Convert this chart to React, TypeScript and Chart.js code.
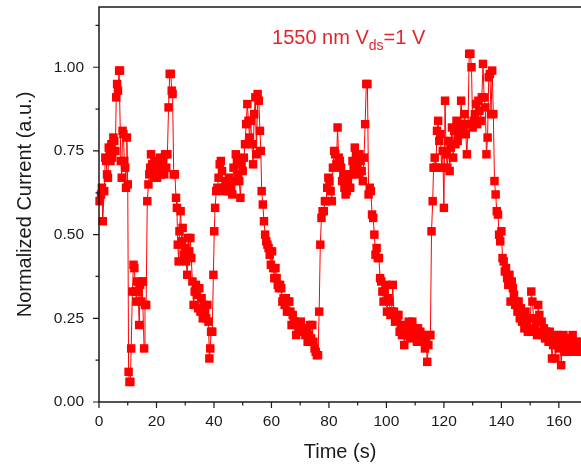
import React, { useEffect, useRef } from 'react';
import { Chart, registerables } from 'chart.js';
Chart.register(...registerables);

// [time (s), normalized current (a.u.)]
const pulse1: [number, number][] = [
  [0.2, 0.6], [0.7, 0.62], [1.0, 0.64], [1.3, 0.54], [1.8, 0.63], [2.2, 0.73], [2.5, 0.72], [2.8, 0.68],
  [3.1, 0.67], [3.4, 0.76], [3.7, 0.75], [4.0, 0.72], [4.3, 0.77], [4.6, 0.73], [5.0, 0.79], [5.3, 0.78],
  [5.7, 0.75], [6.0, 0.91], [6.3, 0.95], [6.6, 0.93], [7.0, 0.99], [7.3, 0.99], [7.6, 0.72], [7.9, 0.67],
  [8.2, 0.81], [8.5, 0.8], [8.8, 0.72], [9.1, 0.7], [9.4, 0.64], [9.7, 0.79], [10.0, 0.65], [10.3, 0.09],
  [10.6, 0.06], [10.9, 0.06], [11.2, 0.16], [11.6, 0.33], [12.0, 0.41], [12.3, 0.4], [12.7, 0.33], [13.0, 0.3],
  [13.3, 0.36], [13.6, 0.33], [14.0, 0.23], [14.3, 0.35], [14.7, 0.3], [15.0, 0.36], [15.3, 0.36], [15.7, 0.16],
  [16.0, 0.29], [16.4, 0.29],
];
const pulse2: [number, number][] = [
  [16.8, 0.6], [17.2, 0.65], [17.5, 0.68], [17.8, 0.7], [18.1, 0.74], [18.5, 0.71], [18.8, 0.69], [19.1, 0.67],
  [19.5, 0.72], [19.8, 0.7], [20.2, 0.67], [20.5, 0.69], [20.9, 0.71], [21.2, 0.73], [21.6, 0.68], [22.0, 0.7],
  [22.3, 0.72], [22.7, 0.68], [23.0, 0.74], [23.4, 0.7], [23.8, 0.74], [24.2, 0.88], [24.6, 0.98], [25.0, 0.98],
  [25.3, 0.93], [25.6, 0.92], [26.0, 0.68], [26.4, 0.68], [26.8, 0.61], [27.1, 0.58], [27.4, 0.47], [27.7, 0.42],
  [28.0, 0.51], [28.4, 0.57], [28.8, 0.48], [29.1, 0.52], [29.5, 0.44], [29.9, 0.46], [30.3, 0.42], [30.7, 0.38],
  [31.0, 0.49], [31.4, 0.45], [31.8, 0.49], [32.1, 0.43], [32.5, 0.36], [32.9, 0.29], [33.3, 0.33], [33.7, 0.35],
  [34.1, 0.32], [34.5, 0.28], [34.9, 0.34], [35.3, 0.27], [35.7, 0.31], [36.1, 0.25], [36.5, 0.29], [36.9, 0.27],
  [37.3, 0.25], [37.7, 0.29], [38.1, 0.24], [38.4, 0.13], [38.7, 0.16], [39.0, 0.21], [39.4, 0.21],
];
const pulse3: [number, number][] = [
  [39.8, 0.38], [40.1, 0.51], [40.4, 0.58], [40.8, 0.63], [41.2, 0.64], [41.6, 0.67], [42.0, 0.71], [42.4, 0.72],
  [42.8, 0.69], [43.2, 0.64], [43.6, 0.63], [44.0, 0.66], [44.4, 0.65], [44.8, 0.63], [45.2, 0.67], [45.6, 0.63],
  [46.0, 0.64], [46.4, 0.62], [46.8, 0.7], [47.2, 0.66], [47.6, 0.74], [48.0, 0.72], [48.4, 0.68], [48.8, 0.66],
  [49.2, 0.61], [49.6, 0.71], [50.0, 0.69], [50.4, 0.73], [50.8, 0.77], [51.2, 0.83], [51.6, 0.89], [52.0, 0.84],
  [52.4, 0.79], [52.8, 0.84], [53.2, 0.77], [53.6, 0.71], [54.0, 0.86], [54.4, 0.91], [54.8, 0.74], [55.2, 0.92],
  [55.6, 0.9], [56.0, 0.81], [56.3, 0.75], [56.6, 0.63], [57.0, 0.59], [57.4, 0.54], [57.8, 0.5], [58.2, 0.48],
  [58.6, 0.47], [59.0, 0.46], [59.4, 0.44], [59.8, 0.41], [60.2, 0.45], [60.6, 0.4], [61.0, 0.37], [61.4, 0.4],
  [61.8, 0.37], [62.2, 0.35], [62.6, 0.34], [63.0, 0.35], [63.4, 0.34], [63.8, 0.3], [64.2, 0.31], [64.6, 0.29],
  [65.0, 0.31], [65.4, 0.27], [65.8, 0.3], [66.2, 0.3], [66.6, 0.27], [67.0, 0.23], [67.4, 0.26], [67.8, 0.24],
  [68.2, 0.24], [68.6, 0.2], [69.0, 0.23], [69.4, 0.22], [69.8, 0.23], [70.2, 0.24], [70.6, 0.21], [71.0, 0.22],
  [71.4, 0.21], [71.8, 0.2], [72.2, 0.21], [72.6, 0.18], [73.0, 0.2], [73.4, 0.23], [73.8, 0.19], [74.2, 0.23],
  [74.6, 0.18], [75.0, 0.16], [75.4, 0.15], [75.8, 0.14], [76.2, 0.14],
];
const pulse4: [number, number][] = [
  [76.6, 0.27], [77.0, 0.47], [77.4, 0.55], [77.8, 0.57], [78.2, 0.57], [78.6, 0.6], [79.0, 0.6], [79.4, 0.64],
  [79.8, 0.67], [80.2, 0.66], [80.6, 0.63], [81.0, 0.6], [81.4, 0.7], [81.8, 0.75], [82.2, 0.74], [82.6, 0.71],
  [83.0, 0.82], [83.4, 0.73], [83.8, 0.72], [84.2, 0.7], [84.6, 0.66], [85.0, 0.68], [85.4, 0.64], [85.8, 0.62],
  [86.2, 0.63], [86.6, 0.66], [87.0, 0.68], [87.4, 0.64], [87.8, 0.68], [88.2, 0.72], [88.6, 0.7], [89.0, 0.76],
  [89.4, 0.74], [89.8, 0.7], [90.2, 0.68], [90.6, 0.74], [91.0, 0.72], [91.4, 0.69], [91.8, 0.66], [92.2, 0.73],
  [92.6, 0.83], [93.0, 0.95], [93.4, 0.95], [93.8, 0.62], [94.2, 0.64], [94.6, 0.63], [95.0, 0.56], [95.4, 0.55],
  [95.8, 0.5], [96.2, 0.44], [96.6, 0.46], [97.0, 0.43], [97.4, 0.43], [97.8, 0.37], [98.2, 0.36], [98.6, 0.33],
  [99.0, 0.3], [99.4, 0.33], [99.8, 0.35], [100.2, 0.27], [100.6, 0.31], [101.0, 0.3], [101.4, 0.26], [101.8, 0.27],
  [102.2, 0.35], [102.6, 0.27], [103.0, 0.24], [103.4, 0.26], [103.8, 0.25], [104.2, 0.26], [104.6, 0.21], [105.0, 0.22],
  [105.4, 0.2], [105.8, 0.23], [106.2, 0.17], [106.6, 0.21], [107.0, 0.22], [107.4, 0.2], [107.8, 0.24], [108.2, 0.19],
  [108.6, 0.21], [109.0, 0.24], [109.4, 0.2], [109.8, 0.22], [110.2, 0.21], [110.6, 0.18], [111.0, 0.22], [111.4, 0.19],
  [111.8, 0.21], [112.2, 0.18], [112.6, 0.2], [113.0, 0.19], [113.4, 0.16], [113.8, 0.19], [114.2, 0.12], [114.6, 0.17],
  [115.0, 0.2], [115.3, 0.2],
];
const pulse5: [number, number][] = [
  [115.7, 0.51], [116.1, 0.6], [116.4, 0.7], [116.8, 0.73], [117.2, 0.7], [117.6, 0.81], [118.0, 0.84], [118.4, 0.78],
  [118.8, 0.8], [119.2, 0.7], [119.6, 0.75], [120.0, 0.58], [120.4, 0.9], [120.8, 0.74], [121.2, 0.7], [121.6, 0.78],
  [122.0, 0.69], [122.4, 0.76], [122.8, 0.82], [123.2, 0.73], [123.6, 0.81], [124.0, 0.77], [124.4, 0.84], [124.8, 0.78],
  [125.2, 0.8], [125.6, 0.83], [126.0, 0.9], [126.4, 0.81], [126.8, 0.82], [127.2, 0.86], [127.6, 0.8], [128.0, 0.74],
  [128.4, 0.83], [128.8, 1.04], [129.2, 1.04], [129.6, 1.0], [130.0, 0.82], [130.4, 0.84], [130.8, 0.86], [131.2, 0.89],
  [131.6, 0.83], [132.0, 0.9], [132.4, 0.87], [132.8, 0.84], [133.2, 0.91], [133.6, 1.01], [134.0, 0.91], [134.4, 0.88],
  [134.8, 0.74], [135.2, 0.79], [135.6, 0.97], [136.0, 0.98], [136.4, 0.86], [136.8, 0.99], [137.2, 0.86], [137.6, 0.66],
  [138.0, 0.62], [138.4, 0.57], [138.8, 0.56], [139.2, 0.5], [139.6, 0.48], [140.0, 0.51], [140.4, 0.43], [140.8, 0.42],
  [141.2, 0.39], [141.6, 0.4], [142.0, 0.37], [142.4, 0.35], [142.8, 0.38], [143.2, 0.3], [143.6, 0.36], [144.0, 0.34],
  [144.4, 0.32], [144.8, 0.29], [145.2, 0.3], [145.6, 0.27], [146.0, 0.3], [146.4, 0.25], [146.8, 0.28], [147.2, 0.24],
  [147.6, 0.26], [148.0, 0.22], [148.4, 0.27], [148.8, 0.23], [149.2, 0.21], [149.6, 0.25], [150.0, 0.21], [150.4, 0.33],
  [150.8, 0.3], [151.2, 0.25], [151.6, 0.22], [152.0, 0.24], [152.4, 0.2], [152.8, 0.29], [153.2, 0.26], [153.6, 0.21],
  [154.0, 0.24], [154.4, 0.2], [154.8, 0.22], [155.2, 0.19], [155.6, 0.21], [156.0, 0.2], [156.4, 0.18], [156.8, 0.21],
  [157.2, 0.19], [157.6, 0.13], [158.0, 0.17], [158.4, 0.2], [158.8, 0.13], [159.2, 0.18], [159.6, 0.2], [160.0, 0.16],
  [160.4, 0.19], [160.8, 0.11], [161.2, 0.17], [161.6, 0.2], [162.0, 0.15], [162.4, 0.17], [162.8, 0.18], [163.2, 0.16],
  [163.6, 0.19], [164.0, 0.15], [164.4, 0.17], [164.8, 0.2], [165.2, 0.15], [165.6, 0.16], [166.0, 0.18], [166.4, 0.15],
  [166.8, 0.17], [167.2, 0.16], [167.6, 0.18],
];

const xMajorTicks = [0, 20, 40, 60, 80, 100, 120, 140, 160];
const xMinorTicks = [10, 30, 50, 70, 90, 110, 130, 150];
const yMajorTicks = [0, 0.25, 0.5, 0.75, 1.0];
const yMinorTicks = [0.125, 0.375, 0.625, 0.875, 1.125];
const xRange = [0, 167.7];
const yRange = [0, 1.18];
const labelPos = { t: 60.2, v: 1.069 };

const FONT = '"Liberation Sans", Arial, Helvetica, sans-serif';
const RED = '#ff0000';
const TEXT_RED = '#e0262b';

const framePlugin = {
  id: 'frame',
  afterLayout(chart: any) {
    // let the plotting area run to the right edge of the canvas, as in the cropped original
    chart.chartArea.right = chart.width;
    const xs = chart.scales.x;
    xs.right = chart.width;
    xs.width = xs.right - xs.left;
    xs.configure();
  },
  afterDraw(chart: any) {
    const { ctx, chartArea } = chart;
    const xs = chart.scales.x;
    const ys = chart.scales.y;
    const { left, right, top, bottom } = chartArea;
    ctx.save();
    ctx.strokeStyle = '#1a1a1a';
    ctx.lineWidth = 1.5;
    ctx.beginPath();
    ctx.moveTo(right + 2, top);
    ctx.lineTo(left, top);
    ctx.lineTo(left, bottom);
    ctx.lineTo(right + 2, bottom);
    ctx.stroke();
    ctx.lineWidth = 1.2;
    ctx.beginPath();
    xMajorTicks.forEach((t) => {
      const px = xs.getPixelForValue(t);
      ctx.moveTo(px, bottom);
      ctx.lineTo(px, bottom + 6);
    });
    xMinorTicks.forEach((t) => {
      const px = xs.getPixelForValue(t);
      ctx.moveTo(px, bottom);
      ctx.lineTo(px, bottom + 3.5);
    });
    yMajorTicks.forEach((v) => {
      const py = ys.getPixelForValue(v);
      ctx.moveTo(left, py);
      ctx.lineTo(left - 6, py);
    });
    yMinorTicks.forEach((v) => {
      const py = ys.getPixelForValue(v);
      ctx.moveTo(left, py);
      ctx.lineTo(left - 3.5, py);
    });
    ctx.stroke();

    // annotation
    let x = xs.getPixelForValue(labelPos.t);
    const y = ys.getPixelForValue(labelPos.v);
    ctx.fillStyle = TEXT_RED;
    ctx.textBaseline = 'alphabetic';
    ctx.textAlign = 'left';
    ctx.font = `20px ${FONT}`;
    const a = '1550 nm V';
    ctx.fillText(a, x, y);
    x += ctx.measureText(a).width;
    ctx.font = `14px ${FONT}`;
    const b = 'ds';
    ctx.fillText(b, x, y + 6);
    x += ctx.measureText(b).width;
    ctx.font = `20px ${FONT}`;
    ctx.fillText('=1 V', x, y);
    ctx.restore();
  },
};

export default function App() {
  const ref = useRef<HTMLCanvasElement | null>(null);
  useEffect(() => {
    if (!ref.current) return;
    const all = [...pulse1, ...pulse2, ...pulse3, ...pulse4, ...pulse5];
    const chart = new Chart(ref.current, {
      type: 'line',
      data: {
        datasets: [
          {
            data: all.map(([t, v]) => ({ x: t, y: v })),
            borderColor: RED,
            backgroundColor: RED,
            borderWidth: 1,
            pointStyle: 'rect',
            pointRadius: 6,
            pointBorderWidth: 0,
            pointBackgroundColor: RED,
            tension: 0,
            clip: false as any,
          },
        ],
      },
      options: {
        animation: false,
        responsive: false,
        maintainAspectRatio: false,
        devicePixelRatio: 1,
        layout: { padding: { left: 0, right: 0, top: 7, bottom: 0 } },
        plugins: { legend: { display: false }, tooltip: { enabled: false }, title: { display: false } },
        scales: {
          x: {
            type: 'linear',
            min: xRange[0],
            max: xRange[1],
            grid: { display: false, drawTicks: false, tickLength: 0 },
            border: { display: false },
            afterBuildTicks: (s: any) => {
              s.ticks = xMajorTicks.map((v) => ({ value: v }));
            },
            afterFit: (s: any) => {
              s.height = 63;
              s.paddingLeft = 0;
              s.paddingRight = 0;
            },
            ticks: {
              color: '#1a1a1a',
              font: { family: FONT, size: 15.5 },
              padding: 10,
              maxRotation: 0,
              autoSkip: false,
            },
            title: {
              display: true,
              text: 'Time (s)',
              color: '#1a1a1a',
              font: { family: FONT, size: 20 },
              padding: { top: 0, bottom: 1 },
            },
          },
          y: {
            type: 'linear',
            min: yRange[0],
            max: yRange[1],
            grid: { display: false, drawTicks: false, tickLength: 0 },
            border: { display: false },
            afterBuildTicks: (s: any) => {
              s.ticks = yMajorTicks.map((v) => ({ value: v }));
            },
            afterFit: (s: any) => {
              s.width = 99;
              s.paddingTop = 0;
              s.paddingBottom = 0;
            },
            ticks: {
              color: '#1a1a1a',
              font: { family: FONT, size: 15.5 },
              padding: 15,
              callback: (v: any) => Number(v).toFixed(2),
            },
            title: {
              display: true,
              text: 'Normalized Current (a.u.)',
              color: '#1a1a1a',
              font: { family: FONT, size: 20 },
              padding: { top: 13, bottom: 0 },
            },
          },
        },
      },
      plugins: [framePlugin],
    });
    return () => chart.destroy();
  }, []);
  return (
    <div style={{ position: 'fixed', left: 0, top: 0, width: 581, height: 465, background: '#fff' }}>
      <canvas ref={ref} width={581} height={465} style={{ width: 581, height: 465, display: 'block' }} />
    </div>
  );
}
